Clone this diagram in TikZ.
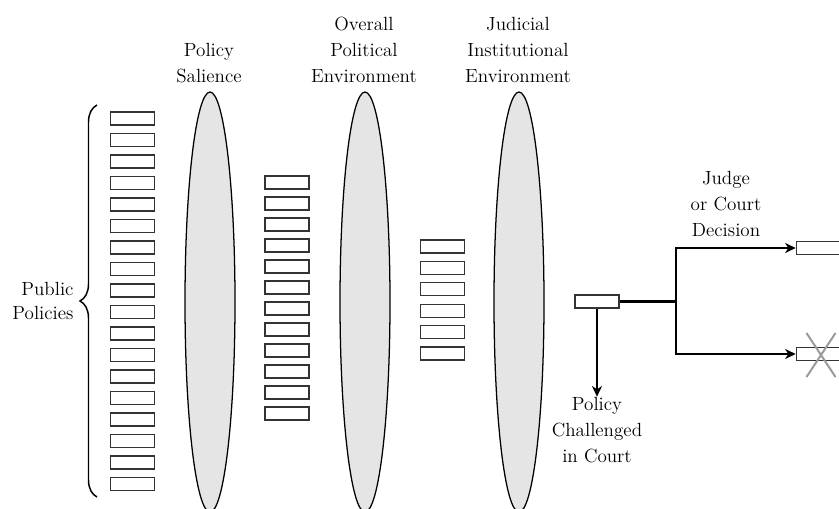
\documentclass[tikz,border=0pt]{standalone}
\usetikzlibrary{arrows.meta,decorations.pathreplacing}

\tikzset{every picture/.style={line width=0.75pt}}
\tikzset{
  polbox/.style={draw={rgb, 255:red, 51; green, 51; blue, 51},fill=white,line width=0.9pt,inner sep=0pt,minimum width=33pt,minimum height=9.75pt},
  lens/.style={draw=black,fill={rgb, 255:red, 229; green, 229; blue, 229},line width=0.95pt},
  lbl/.style={align=center,inner sep=0pt,font=\fontsize{14.3}{19.5}\selectfont},
  flow/.style={line width=1.9pt},
  arr/.style={flow,-{Stealth[length=8pt,width=7.5pt,inset=2.5pt]}},
}

\begin{document}
\begin{tikzpicture}[x=0.75pt,y=0.75pt,yscale=-1,xscale=1]
\useasboundingbox (0,0) rectangle (839,508);

%Shape: Ellipse
\draw [lens] (210,302) ellipse (25 and 210);
%Shape: Ellipse
\draw [lens] (365,302) ellipse (25 and 210);
%Shape: Ellipse
\draw [lens] (519,302) ellipse (25 and 210);

%Text Node
\node [lbl] (sal) at (209,63) {Policy\\Salience};
%Text Node
\node [lbl] (opol) at (364,50) {Overall\\Political\\Environment};
%Text Node
\node [lbl] (jinst) at (518,50) {Judicial\\Institutional\\Environment};

%Shape: Rectangles
\foreach \i in {0,...,17}
  \node [polbox] (pp-\i) at (132.5,118.5+21.5*\i) {};
\foreach \i in {0,...,11}
  \node [polbox] (sb-\i) at (287,182.5+21*\i) {};
\foreach \i in {0,...,5}
  \node [polbox] (pe-\i) at (442.5,246.5+21.4*\i) {};

%Shape: Brace
\draw [line width=1.1pt,decorate,decoration={brace,amplitude=12.75pt}] (97,497) -- (97,105);
%Text Node
\node [lbl,align=right,anchor=east,font=\fontsize{14.3}{17.5}\selectfont] (pub) at (74,301) {Public\\Policies};

%Shape: Rectangle
\node [polbox] (chall) at (597,301.5) {};
\node [polbox,minimum width=37pt] (win) at (821,248) {};
\node [polbox,minimum width=37pt] (lose) at (821,354) {};

%Connectors
\coordinate (fork) at (676,301.5);
\draw [flow] (chall) -- (fork);
\draw [arr] (fork) |- (win);
\draw [arr] (fork) |- (lose);

%Text Node
\node [lbl] (cinc) at (597,430) {Policy\\Challenged\\in Court};
\draw [arr] (chall) -- (cinc);
%Text Node
\node [lbl] (jdec) at (726,204) {Judge\\or Court\\Decision};

%Shape: Cross
\draw [color={rgb, 255:red, 155; green, 155; blue, 155},line width=1.5pt] (lose.center) ++(-14.5,-21) -- ++(29,44) (lose.center) ++(14.5,-21) -- ++(-29,44);

\end{tikzpicture}
\end{document}
